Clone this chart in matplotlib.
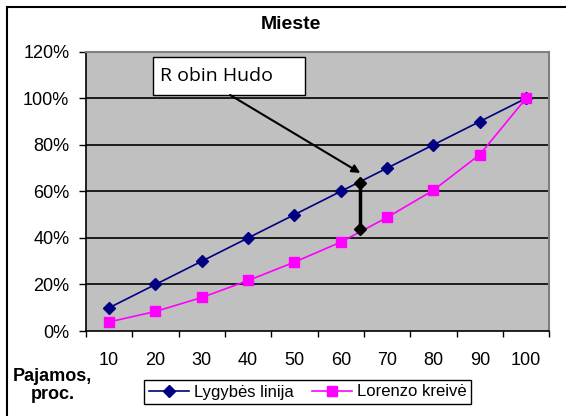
import matplotlib
matplotlib.use("Agg")
import matplotlib.pyplot as plt
from matplotlib.patches import Rectangle
from matplotlib.ticker import FixedLocator, NullFormatter

categories = ["10", "20", "30", "40", "50", "60", "70", "80", "90", "100"]
equality = [10, 20, 30, 40, 50, 60, 70, 80, 90, 100]
lorenz = [3.9, 8.4, 14.4, 21.7, 29.6, 38.2, 48.8, 60.5, 75.8, 100]
yticks = [0, 20, 40, 60, 80, 100, 120]
ytick_labels = ["0%", "20%", "40%", "60%", "80%", "100%", "120%"]
title = "Mieste"
xlabel = "Pajamos,\nproc."
series_names = ["Lygybės linija", "Lorenzo kreivė"]
callout = "R obin Hudo"
gap_x = 5.42
gap_top, gap_bottom = 63.5, 43.8

plt.rcParams['font.family'] = ['Liberation Sans', 'DejaVu Sans']

W, H = 566, 416
fig = plt.figure(figsize=(W / 100, H / 100), dpi=100)

# outer chart frame (extends beyond right/bottom edges)
fig.patches.append(Rectangle((7 / W, -0.1), 1.2, (H - 7) / H + 0.1,
                             transform=fig.transFigure, fill=False,
                             edgecolor='black', linewidth=1.5))

L, R, B, T = 86 / W, 549.3 / W, (H - 331) / H, (H - 51.7) / H
ax = fig.add_axes([L, B, R - L, T - B])
ax.set_facecolor('#C0C0C0')

x = list(range(len(categories)))
ax.plot(x, equality, color='#000080', lw=1.2, marker='D', markersize=6,
        markerfacecolor='#000080', markeredgecolor='#000080', label=series_names[0], zorder=4)
ax.plot(x, lorenz, color='#FF00FF', lw=1.2, marker='s', markersize=6.5,
        markerfacecolor='#FF00FF', markeredgecolor='#FF00FF', label=series_names[1], zorder=4)

ax.set_xlim(-0.5, len(categories) - 0.5)
ax.set_ylim(0, 120)

ax.set_yticks(yticks)
ax.set_yticklabels(ytick_labels)
ax.tick_params(axis='y', length=5, width=1, pad=7, labelsize=13, direction='out')

ax.xaxis.set_major_locator(FixedLocator([i - 0.5 for i in range(len(categories) + 1)]))
ax.xaxis.set_major_formatter(NullFormatter())
ax.xaxis.set_minor_locator(FixedLocator(x))
ax.set_xticklabels(categories, minor=True)
ax.tick_params(axis='x', which='major', length=4, width=1, direction='out')
ax.tick_params(axis='x', which='minor', length=0, pad=15, labelsize=13)

for yv in yticks[1:-1]:
    ax.axhline(yv, color='black', lw=1.2, zorder=1)

for s in ['top', 'right']:
    ax.spines[s].set_color('#808080')
    ax.spines[s].set_linewidth(1.5)
for s in ['left', 'bottom']:
    ax.spines[s].set_color('black')
    ax.spines[s].set_linewidth(1.2)

# Robin Hood callout
ax.add_patch(Rectangle((0.954, 101.4), 3.28, 16.2, facecolor='white',
                       edgecolor='black', lw=1, zorder=5))
ax.text(1.10, 109.6, callout, fontsize=14, family=['Open Sans', 'DejaVu Sans'],
        va='center', ha='left', zorder=6)
ax.annotate('', xy=(gap_x, 67.9), xytext=(2.61, 101.4),
            arrowprops=dict(arrowstyle='-|>', color='black', lw=1.5,
                            mutation_scale=12, shrinkA=0, shrinkB=0), zorder=5)
ax.plot([gap_x, gap_x], [gap_top, gap_bottom], color='black', lw=2.5,
        marker='D', markersize=6.5, zorder=6)

fig.text(291 / W, 1 - 24.5 / H, title, fontsize=14, fontweight='bold',
         ha='center', va='center')
fig.text(52.5 / W, 1 - 385.5 / H, xlabel, fontsize=13, fontweight='bold',
         ha='center', va='center', multialignment='center', linespacing=1.15)

leg = fig.legend(loc='center', bbox_to_anchor=(307.5 / W, 1 - 392 / H), ncol=2,
                 fontsize=12, frameon=True, fancybox=False, framealpha=1,
                 edgecolor='black', handlelength=2.4, handletextpad=0.3,
                 columnspacing=1.1, borderpad=0.25)
leg.get_frame().set_linewidth(1)

fig.savefig('out.png', dpi=100)
